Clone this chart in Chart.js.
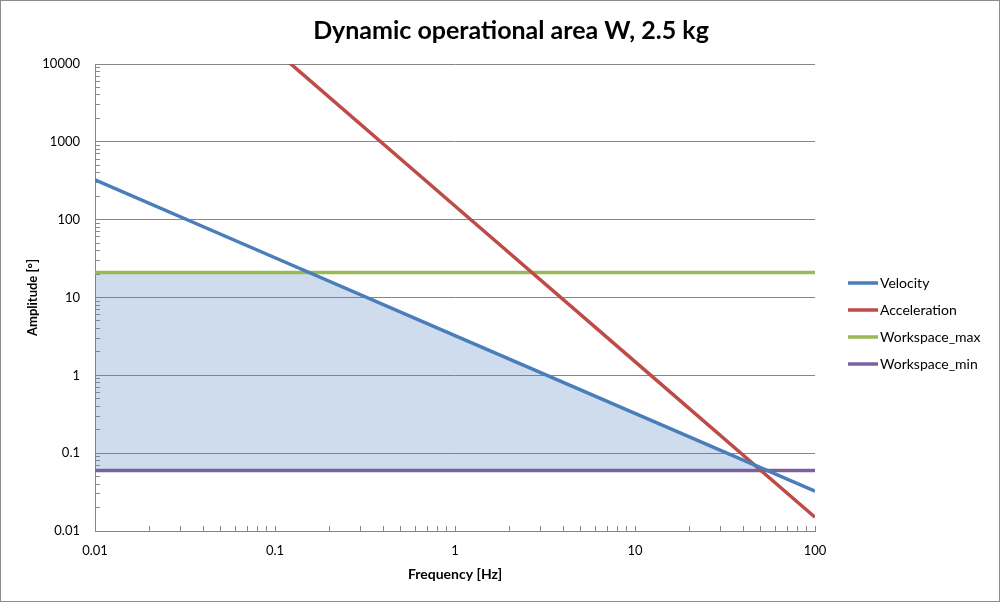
<!DOCTYPE html>
<html>
<head>
<meta charset="utf-8">
<script src="https://cdn.jsdelivr.net/npm/chart.js@4"></script>
<style>
html, body { margin: 0; padding: 0; background: #fff; }
#wrap { width: 998px; height: 600px; border: 1px solid #8c8c8c; }
#chart { display: block; }
</style>
</head>
<body>
<div id="wrap"><canvas id="chart" width="998" height="600"></canvas></div>
<script>
// frequency points [Hz]
const freq = [0.01, 0.1, 1, 10, 100];
// amplitude limits [°]
const velocity = [324, 32.4, 3.24, 0.324, 0.0324];
const acceleration = [1500000, 15000, 150, 1.5, 0.015];
const workspaceMax = [21, 21, 21, 21, 21];
const workspaceMin = [0.06, 0.06, 0.06, 0.06, 0.06];
// shaded operational area, upper edge
const areaFreq = [0.01, 0.154, 1, 10, 54];
const areaTop = [21, 21, 3.24, 0.324, 0.06];

const seriesNames = ['Velocity', 'Acceleration', 'Workspace_max', 'Workspace_min'];
const xMajor = [0.01, 0.1, 1, 10, 100];
const xTickLabels = ['0.01', '0.1', '1', '10', '100'];
const yMajor = [0.01, 0.1, 1, 10, 100, 1000, 10000];
const yTickLabels = ['0.01', '0.1', '1', '10', '100', '1000', '10000'];

const gray = '#868686';

function pts(xs, ys) {
    return xs.map((x, i) => ({ x: x, y: ys[i] }));
}

// major + minor (2..9) ticks for each decade
function logTicks(major) {
    const out = [];
    for (let i = 0; i < major.length; i++) {
        out.push(major[i]);
        if (i < major.length - 1) {
            for (let k = 2; k <= 9; k++) out.push(major[i] * k);
        }
    }
    return out;
}

function majorIndex(list, v) {
    return list.findIndex(m => Math.abs(Math.log10(m) - Math.log10(v)) < 1e-6);
}

// Excel style legend: short line sample + name
const lineLegend = {
    id: 'lineLegend',
    afterDraw(chart) {
        const ctx = chart.ctx;
        const items = chart.data.datasets.filter(d => d.label);
        const area = chart.chartArea;
        const x0 = area.right + 33;
        let y = (area.top + area.bottom) / 2 + 26 - (items.length - 1) * 27 / 2;
        ctx.save();
        ctx.font = '14px Lato, "Open Sans", sans-serif';
        ctx.textBaseline = 'middle';
        ctx.fillStyle = '#000';
        for (const d of items) {
            ctx.strokeStyle = d.borderColor;
            ctx.lineWidth = 3.5;
            ctx.beginPath();
            ctx.moveTo(x0, y);
            ctx.lineTo(x0 + 30, y);
            ctx.stroke();
            ctx.fillText(d.label, x0 + 32, y);
            y += 27;
        }
        ctx.restore();
    }
};

Chart.defaults.font.family = 'Lato, "Open Sans", sans-serif';
Chart.defaults.color = '#000';

const ctx = document.getElementById('chart').getContext('2d');
const myChart = new Chart(ctx, {
    type: 'line',
    data: {
        datasets: [
            { label: seriesNames[0], data: pts(freq, velocity), borderColor: '#4a7ebb', borderWidth: 3.5 },
            { label: seriesNames[1], data: pts(freq, acceleration), borderColor: '#be4b48', borderWidth: 3.5 },
            { label: seriesNames[2], data: pts(freq, workspaceMax), borderColor: '#98b954', borderWidth: 3.5 },
            { label: seriesNames[3], data: pts(freq, workspaceMin), borderColor: '#7d60a0', borderWidth: 3.5 },
            {
                label: '', data: pts(areaFreq, areaTop), borderWidth: 0, borderColor: 'rgba(0,0,0,0)',
                backgroundColor: 'rgba(79,129,189,0.28)', fill: { value: 0.06 }
            }
        ]
    },
    options: {
        responsive: false,
        animation: false,
        layout: { padding: { left: 22, right: 0, top: 0, bottom: 0 } },
        elements: { point: { radius: 0, hoverRadius: 0 }, line: { tension: 0 } },
        plugins: {
            legend: { display: false },
            tooltip: { enabled: false },
            title: {
                display: true,
                text: 'Dynamic operational area W, 2.5 kg',
                font: { size: 25, weight: 'bold' },
                padding: { top: 15, bottom: 18 }
            }
        },
        scales: {
            x: {
                type: 'logarithmic',
                min: 0.01,
                max: 100,
                afterFit: s => { s.height = 70; },
                afterBuildTicks: s => { s.ticks = logTicks(xMajor).map(v => ({ value: v })); },
                ticks: {
                    autoSkip: false,
                    maxRotation: 0,
                    padding: 17,
                    font: { size: 13 },
                    callback: v => { const i = majorIndex(xMajor, v); return i >= 0 ? xTickLabels[i] : ''; }
                },
                grid: { color: 'rgba(0,0,0,0)', tickColor: gray, tickLength: -5, lineWidth: 1 },
                border: { color: gray, width: 1 },
                title: { display: true, text: 'Frequency [Hz]', font: { size: 14, weight: 'bold' }, padding: 18 }
            },
            y: {
                type: 'logarithmic',
                min: 0.01,
                max: 10000,
                afterFit: s => { s.width = 72; },
                afterBuildTicks: s => { s.ticks = logTicks(yMajor).map(v => ({ value: v })); },
                ticks: {
                    autoSkip: false,
                    padding: 20,
                    font: { size: 13 },
                    callback: v => { const i = majorIndex(yMajor, v); return i >= 0 ? yTickLabels[i] : ''; }
                },
                grid: {
                    color: c => (c.tick && majorIndex(yMajor, c.tick.value) >= 0 ? gray : 'rgba(0,0,0,0)'),
                    tickColor: gray,
                    tickLength: -5,
                    lineWidth: 1
                },
                border: { color: gray, width: 1 },
                title: { display: true, text: 'Amplitude [°]', font: { size: 13, weight: 'bold' }, padding: 2 }
            },
            // empty box on the right that keeps room for the legend
            side: {
                type: 'linear',
                position: 'right',
                display: true,
                afterFit: s => { s.width = 184; },
                ticks: { display: false },
                grid: { display: false, drawTicks: false },
                border: { display: false }
            }
        }
    },
    plugins: [lineLegend]
});
</script>
</body>
</html>
